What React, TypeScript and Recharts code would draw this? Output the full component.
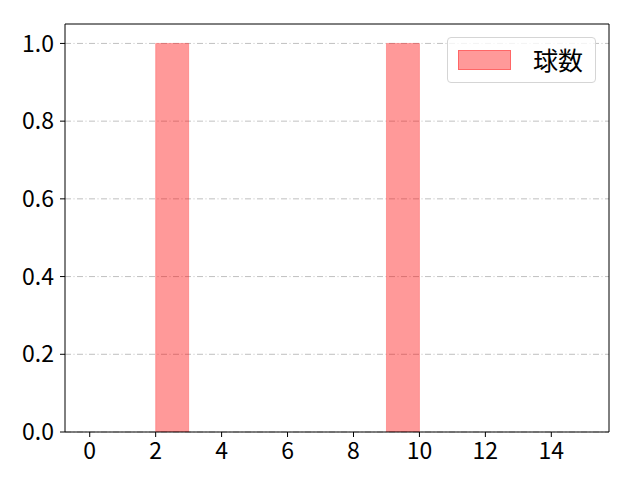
import React from "react";
import { ComposedChart, Bar, XAxis, YAxis, CartesianGrid, Legend, ReferenceLine } from "recharts";

const binCenters = [0.5, 1.5, 2.5, 3.5, 4.5, 5.5, 6.5, 7.5, 8.5, 9.5, 10.5, 11.5, 12.5, 13.5, 14.5];
const counts = [0, 0, 1, 0, 0, 0, 0, 0, 0, 1, 0, 0, 0, 0, 0];
const xTicks = [0, 2, 4, 6, 8, 10, 12, 14];
const yTicks = [0, 0.2, 0.4, 0.6, 0.8, 1.0];
const seriesName = "球数";

const data = binCenters.map((x, i) => ({ x, v: counts[i] }));

const FONT = "'Noto Sans CJK JP', 'DejaVu Sans', sans-serif";

const LegendBox = () => (
  <div
    style={{
      width: 149,
      height: 46,
      boxSizing: "border-box",
      border: "1px solid #d5d5d5",
      borderRadius: 4,
      background: "rgba(255,255,255,0.8)",
      display: "flex",
      alignItems: "center",
      fontFamily: FONT,
      fontSize: 25,
      lineHeight: 1,
      color: "#000",
    }}
  >
    <div
      style={{
        marginLeft: 10,
        width: 53,
        height: 20,
        boxSizing: "border-box",
        background: "rgba(255,0,0,0.4)",
        border: "1px solid rgba(255,60,60,0.55)",
      }}
    />
    <span style={{ marginLeft: 22, marginTop: -2 }}>{seriesName}</span>
  </div>
);

export default function App() {
  return (
    <div style={{ position: "absolute", left: 0, top: 0, width: 640, height: 480, background: "#fff" }}>
      <ComposedChart
        width={640}
        height={480}
        data={data}
        margin={{ top: 24, right: 31, left: 0, bottom: 0 }}
        barCategoryGap={0}
        barGap={0}
      >
        <CartesianGrid
          vertical={false}
          horizontalValues={yTicks}
          stroke="#b0b0b0"
          strokeDasharray="6 2.5 1 2.5"
          strokeWidth={0.8}
        />
        <XAxis
          dataKey="x"
          type="number"
          domain={[-0.75, 15.75]}
          ticks={xTicks}
          allowDataOverflow
          height={48}
          tickSize={5}
          tickMargin={6}
          stroke="#000"
          tick={{ fill: "#000", fontSize: 23, fontFamily: FONT }}
          axisLine={{ stroke: "#000" }}
          tickLine={{ stroke: "#000" }}
        />
        <YAxis
          type="number"
          domain={[0, 1.05]}
          ticks={yTicks}
          allowDataOverflow
          width={65}
          tickSize={5}
          tickMargin={6}
          tickFormatter={(v: number) => v.toFixed(1)}
          tick={{ fill: "#000", fontSize: 23, fontFamily: FONT }}
          axisLine={{ stroke: "#000" }}
          tickLine={{ stroke: "#000" }}
        />
        <ReferenceLine y={1.05} stroke="#000" strokeWidth={1} ifOverflow="visible" />
        <ReferenceLine x={15.75} stroke="#000" strokeWidth={1} ifOverflow="visible" />
        <Bar
          dataKey="v"
          name={seriesName}
          fill="rgb(255,0,0)"
          fillOpacity={0.4}
          stroke="rgb(255,0,0)"
          strokeOpacity={0.25}
          strokeWidth={1}
          isAnimationActive={false}
        />
        <Legend
          layout="horizontal"
          verticalAlign="middle"
          align="center"
          content={() => <LegendBox />}
          wrapperStyle={{ position: "absolute", left: 447, top: 37, width: 149, height: 46 }}
        />
      </ComposedChart>
    </div>
  );
}
